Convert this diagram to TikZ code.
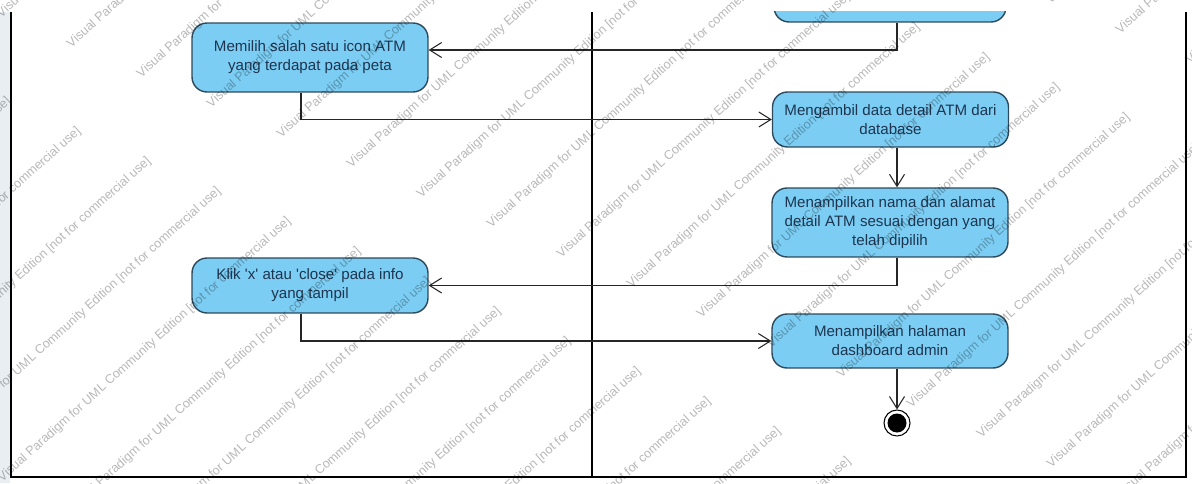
\documentclass[tikz,border=0pt]{standalone}
\usepackage{fontspec}
\setmainfont{Liberation Sans}
\usetikzlibrary{arrows.meta,positioning}

\definecolor{actfill}{HTML}{7CCDF3}
\definecolor{actline}{HTML}{2C4A5C}
\definecolor{acttext}{HTML}{1E3550}
\definecolor{laneside}{HTML}{E9EEF3}

\tikzset{
  action/.style={draw=actline, fill=actfill, line width=0.8pt, rounded corners=0.3cm,
    minimum width=4.72cm, align=center, text=acttext, inner sep=2pt,
    font=\fontsize{8.6}{10.8}\selectfont},
  flow/.style={draw=black!85, line width=0.6pt, -{Straight Barb[length=2.4mm,width=3mm]}},
  lane/.style={draw=black, line width=1.1pt},
  wmark/.style={rotate=42, anchor=west, inner sep=0pt, text=black, text opacity=0.28,
    font=\fontsize{7.2}{8}\selectfont},
}

\begin{document}
\begin{tikzpicture}[x=0.02cm, y=-0.02cm]
  \useasboundingbox (0,0) rectangle (1192,483);
  \fill[laneside] (0,12) rectangle (10,483);

  % swimlanes
  \draw[lane] (11,12) -- (11,477) -- (1186,477) -- (1186,12);
  \draw[lane] (592,12) -- (592,477);

  % previous action, cut off at the top
  \begin{scope}
    \clip (0,12) rectangle (1192,483);
    \node[action, minimum width=4.64cm, minimum height=1.36cm] (prev) at (890,-12) {};
  \end{scope}

  \node[action, minimum height=1.38cm] (pilih) at (310,57.5) {Memilih salah satu icon ATM\\yang terdapat pada peta};
  \node[action, minimum height=1.1cm] (ambil) at (890.5,119.5) {Mengambil data detail ATM dari\\database};
  \node[action, minimum height=1.38cm] (tampil) at (890,222.5) {Menampilkan nama dan alamat\\detail ATM sesuai dengan yang\\telah dipilih};
  \node[action, minimum height=1.1cm] (klik) at (310,285.5) {Klik \textquotesingle x\textquotesingle{} atau \textquotesingle close\textquotesingle{} pada info\\yang tampil};
  \node[action, minimum height=1.08cm] (dash) at (890,341) {Menampilkan halaman\\dashboard admin};
  \node[circle, draw=black, line width=0.6pt, minimum size=0.52cm, inner sep=0pt] (endmark) at (897,423) {};
  \fill (endmark) circle (0.19cm);

  \draw[flow] (prev.south -| endmark) |- ([yshift=0.15cm]pilih.east);
  \draw[flow] ([xshift=-0.18cm]pilih.south) |- (ambil.west);
  \draw[flow] (ambil.south -| endmark) -- (tampil.north -| endmark);
  \draw[flow] (tampil.south -| endmark) |- (klik.east);
  \draw[flow] ([xshift=-0.18cm]klik.south) |- (dash.west);
  \draw[flow] (dash.south -| endmark) -- (endmark.north);

  % watermark
  \begin{scope}
    \clip (0,0) rectangle (1192,483);
    \foreach \i in {-8,...,15}{
      \foreach \j in {-1,...,2}{
        \node[wmark] (wm\i\j) at ({70*\i+349*\j},{480+30*\i-314*\j}) {Visual Paradigm for UML Community Edition [not for commercial use]};
      }
    }
  \end{scope}
\end{tikzpicture}
\end{document}
